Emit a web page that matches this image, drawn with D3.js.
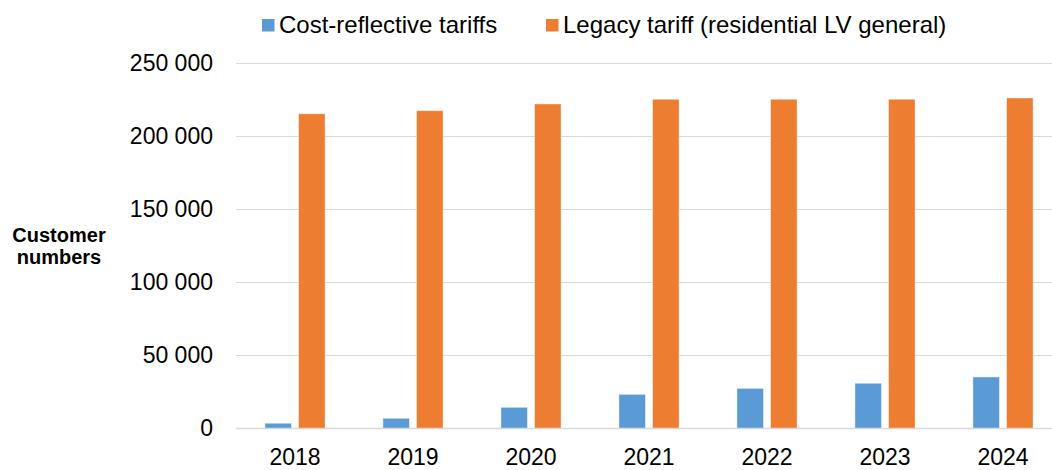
<!DOCTYPE html>
<html>
<head>
<meta charset="utf-8">
<script src="https://cdn.jsdelivr.net/npm/d3@7"></script>
<style>
  html, body { margin: 0; padding: 0; background: #fff; overflow: hidden; }
  svg { display: block; font-family: "Liberation Sans", Arial, sans-serif; }
</style>
</head>
<body>
<svg id="chart" width="1052" height="470"></svg>
<script>
// Customer numbers by tariff type, per year
const years = ["2018", "2019", "2020", "2021", "2022", "2023", "2024"];
const seriesNames = ["Cost-reflective tariffs", "Legacy tariff (residential LV general)"];
const costReflective = [3600, 7000, 14500, 23400, 27500, 31000, 35300];
const legacy = [215600, 217700, 222300, 225500, 225500, 225500, 226400];
const yTicks = [0, 50000, 100000, 150000, 200000, 250000];
const colors = ["#5B9BD5", "#ED7D31"];

const svg = d3.select("#chart");
const plot = { left: 236, right: 1062, top: 63.5, bottom: 428.5 };

const x0 = d3.scaleBand()
  .domain(years)
  .range([plot.left, plot.right])
  .paddingInner(0.49)
  .paddingOuter(0.245);

const x1 = d3.scaleBand()
  .domain(seriesNames)
  .range([0, x0.bandwidth()])
  .paddingInner(0.21);

const y = d3.scaleLinear()
  .domain([0, 250000])
  .range([plot.bottom, plot.top]);

const fmt = v => d3.format(",")(v).replace(/,/g, " ");

// horizontal gridlines
svg.append("g")
  .selectAll("line")
  .data(yTicks.filter(t => t > 0))
  .join("line")
  .attr("x1", plot.left).attr("x2", plot.right)
  .attr("y1", d => y(d)).attr("y2", d => y(d))
  .attr("stroke", "#D9D9D9").attr("stroke-width", 1.2);

// y axis labels
const yAxis = d3.axisLeft(y).tickValues(yTicks).tickFormat(fmt).tickSize(0).tickPadding(0);
const gy = svg.append("g").attr("transform", "translate(213,0)").call(yAxis);
gy.select(".domain").remove();
gy.selectAll("text")
  .attr("font-size", 23)
  .attr("fill", "#000")
  .attr("font-family", "Liberation Sans, Arial, sans-serif");

// bars
const rows = years.map((yr, i) => ({ year: yr, values: [costReflective[i], legacy[i]] }));
svg.append("g")
  .selectAll("g")
  .data(rows)
  .join("g")
  .attr("transform", d => `translate(${x0(d.year)},0)`)
  .selectAll("rect")
  .data(d => d.values.map((v, k) => ({ name: seriesNames[k], value: v, k })))
  .join("rect")
  .attr("x", d => x1(d.name))
  .attr("width", x1.bandwidth())
  .attr("y", d => y(d.value))
  .attr("height", d => y(0) - y(d.value))
  .attr("fill", d => colors[d.k])
  .attr("stroke", "#ffffff")
  .attr("stroke-opacity", 0.45)
  .attr("stroke-width", 1);

// baseline
svg.append("line")
  .attr("x1", plot.left).attr("x2", plot.right)
  .attr("y1", y(0)).attr("y2", y(0))
  .attr("stroke", "#D9D9D9").attr("stroke-width", 1.6);

// x axis labels
const xAxis = d3.axisBottom(x0).tickSize(0).tickPadding(0);
const gx = svg.append("g").attr("transform", "translate(0,449)").call(xAxis);
gx.select(".domain").remove();
gx.selectAll("text")
  .attr("font-size", 23)
  .attr("fill", "#000")
  .attr("dy", "0.71em")
  .attr("font-family", "Liberation Sans, Arial, sans-serif");

// axis title
const title = svg.append("text")
  .attr("x", 59)
  .attr("text-anchor", "middle")
  .attr("font-size", 20)
  .attr("font-weight", "bold")
  .attr("fill", "#000");
title.append("tspan").attr("x", 59).attr("y", 242).text("Customer");
title.append("tspan").attr("x", 59).attr("y", 264).text("numbers");

// legend
const legendItems = [
  { name: seriesNames[0], color: colors[0], x: 262 },
  { name: seriesNames[1], color: colors[1], x: 546 }
];
const lg = svg.append("g")
  .selectAll("g")
  .data(legendItems)
  .join("g")
  .attr("transform", d => `translate(${d.x},0)`);
lg.append("rect")
  .attr("x", 0).attr("y", 19)
  .attr("width", 12.5).attr("height", 12.5)
  .attr("fill", d => d.color);
lg.append("text")
  .attr("x", 17).attr("y", 33)
  .attr("font-size", 24)
  .attr("fill", "#000")
  .text(d => d.name);
</script>
</body>
</html>
